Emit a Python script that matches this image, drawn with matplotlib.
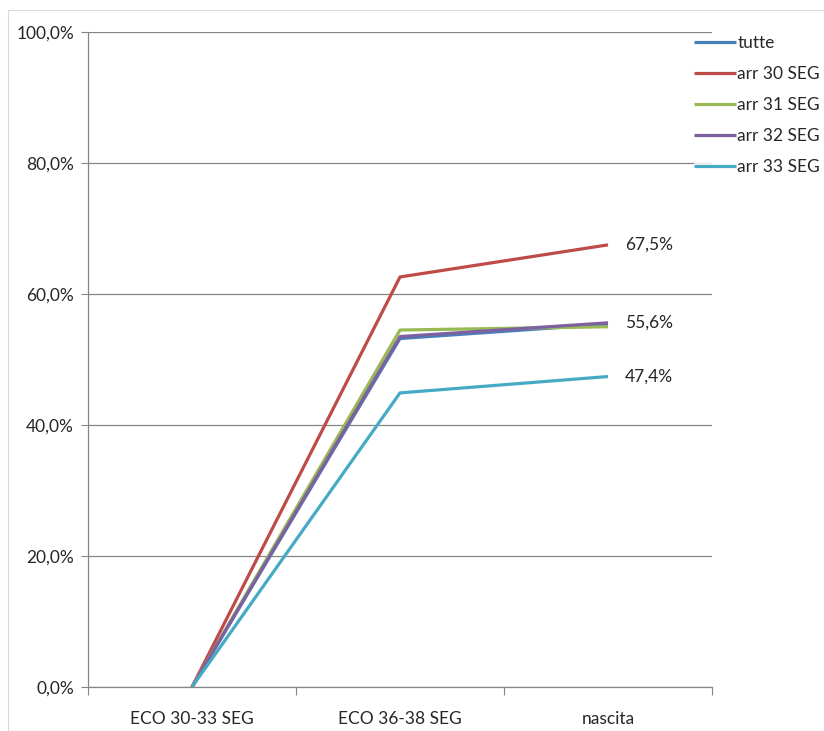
import matplotlib
matplotlib.use("Agg")
import matplotlib.pyplot as plt
from matplotlib.patches import Rectangle
from matplotlib.ticker import FuncFormatter

plt.rcParams['font.family'] = ['Lato', 'DejaVu Sans']

categories = ["ECO 30-33 SEG", "ECO 36-38 SEG", "nascita"]
series_names = ["tutte", "arr 30 SEG", "arr 31 SEG", "arr 32 SEG", "arr 33 SEG"]
tutte = [0.0, 53.2, 55.4]
arr30 = [0.0, 62.6, 67.5]
arr31 = [0.0, 54.5, 55.0]
arr32 = [0.0, 53.5, 55.6]
arr33 = [0.0, 44.9, 47.4]
colors = ["#4A7EBB", "#BE4B48", "#98B954", "#7D60A0", "#46AAC5"]
labelled = {"arr 30 SEG": 67.5, "arr 32 SEG": 55.6, "arr 33 SEG": 47.4}

FS = 12.5

fig = plt.figure(figsize=(8.24, 7.31), dpi=100)
fig.patches.append(Rectangle((8 / 824, 0), 1, 1 - 10 / 731, transform=fig.transFigure,
                             fill=False, edgecolor="#D9D9D9", linewidth=0.8))
ax = fig.add_axes([88 / 824, 44 / 731, 624 / 824, 655 / 731])

x = [0.5, 1.5, 2.5]
for name, vals, c in zip(series_names, [tutte, arr30, arr31, arr32, arr33], colors):
    ax.plot(x, vals, color=c, linewidth=2.3, label=name, solid_capstyle="butt")
    if name in labelled:
        ax.annotate(f"{labelled[name]:.1f}%".replace(".", ","), (x[-1], vals[-1]),
                    xytext=(12, 0), textcoords="offset points", va="center", ha="left",
                    fontsize=FS, color="#262626")

ax.set_xlim(0, 3)
ax.set_ylim(0, 100)
ax.set_yticks([0, 20, 40, 60, 80, 100])
ax.yaxis.set_major_formatter(FuncFormatter(lambda v, p: f"{v:.1f}%".replace(".", ",")))
ax.set_xticks([0, 1, 2, 3])
ax.set_xticklabels([])
ax.set_xticks(x, minor=True)
ax.set_xticklabels(categories, minor=True)
ax.tick_params(axis="x", which="minor", length=0, pad=17, labelsize=FS, labelcolor="#262626")
ax.tick_params(axis="x", which="major", length=6, color="#868686", direction="out")
ax.tick_params(axis="y", length=5, color="#868686", direction="out", pad=5,
               labelsize=FS, labelcolor="#262626")
ax.grid(axis="y", color="#868686", linewidth=0.9)
ax.set_axisbelow(True)
for s in ["top", "right"]:
    ax.spines[s].set_visible(False)
for s in ["left", "bottom"]:
    ax.spines[s].set_color("#868686")
    ax.spines[s].set_linewidth(0.9)

leg = fig.legend(loc="upper left", bbox_to_anchor=(694 / 824, 1 - 35 / 731),
                 frameon=True, fontsize=FS, handlelength=2.4, handletextpad=0.1,
                 labelspacing=0.86, borderpad=0, borderaxespad=0)
leg.get_frame().set_facecolor("white")
leg.get_frame().set_edgecolor("none")
for t in leg.get_texts():
    t.set_color("#262626")

fig.savefig("out.png", dpi=100)
